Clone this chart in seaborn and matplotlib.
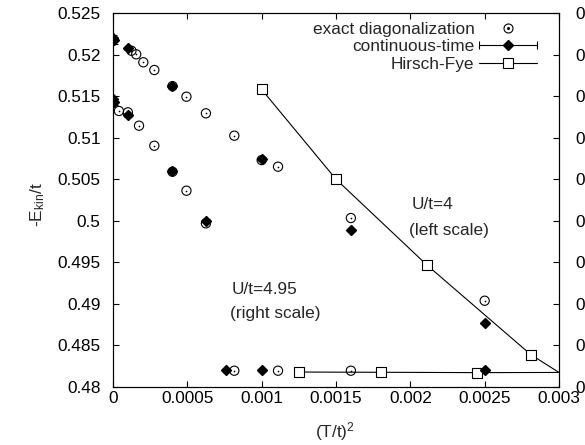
import numpy as np
import matplotlib
matplotlib.use('Agg')
import matplotlib.pyplot as plt
import seaborn as sns
from matplotlib.lines import Line2D
from matplotlib.legend_handler import HandlerLine2D, HandlerTuple

# exact diagonalization, U/t=4 (upper branch)
ed_u4_x = [0.000124, 0.000156, 0.000204, 0.000278, 0.0004, 0.000494, 0.000625, 0.000816, 0.001, 0.00111, 0.0016, 0.0025]
ed_u4_y = [0.52046, 0.52003, 0.51907, 0.51814, 0.5162, 0.51493, 0.51293, 0.51024, 0.5073, 0.50651, 0.50033, 0.49038]
# exact diagonalization, U/t=4.95 (lower branch)
ed_u495_x = [0.00004, 0.0001, 0.000175, 0.000278, 0.0004, 0.000494, 0.000625]
ed_u495_y = [0.51321, 0.51305, 0.51144, 0.50903, 0.5059, 0.50362, 0.49969]
# exact diagonalization, points along the bottom
ed_low_x = [0.000816, 0.00111, 0.0016]
ed_low_y = [0.48196, 0.48196, 0.48196]

# continuous-time QMC
ct_u4_x = [0.0, 0.00001, 0.0001, 0.0004, 0.001, 0.0016, 0.0025]
ct_u4_y = [0.5220, 0.5217, 0.52075, 0.51625, 0.50743, 0.4989, 0.48767]
ct_u4_err = [0.0004, 0.0004, 0.0002, 0.0002, 0.0002, 0.0001, 0.0001]
ct_u495_x = [0.0, 0.00001, 0.0001, 0.0004, 0.000625]
ct_u495_y = [0.5146, 0.5143, 0.51273, 0.50599, 0.5000]
ct_u495_err = [0.0004, 0.0004, 0.0002, 0.0002, 0.0002]
ct_low_x = [0.00076, 0.001, 0.0025]
ct_low_y = [0.48204, 0.48204, 0.48204]

# Hirsch-Fye
hf_u4_x = [0.001, 0.0015, 0.00211, 0.00281]
hf_u4_y = [0.5158, 0.5050, 0.4947, 0.4839]
hf_low_x = [0.00125, 0.0018, 0.00245]
hf_low_y = [0.4818, 0.48177, 0.48173]
hf_end_x = 0.003
hf_end_y = 0.48175

x_ticks = [0, 0.0005, 0.001, 0.0015, 0.002, 0.0025, 0.003]
x_tick_labels = ['0', '0.0005', '0.001', '0.0015', '0.002', '0.0025', '0.003']
y_ticks = [0.48, 0.485, 0.49, 0.495, 0.5, 0.505, 0.51, 0.515, 0.52, 0.525]
y_tick_labels = ['0.48', '0.485', '0.49', '0.495', '0.5', '0.505', '0.51', '0.515', '0.52', '0.525']
r_ticks = [0.41, 0.415, 0.42, 0.425, 0.43, 0.435, 0.44, 0.445, 0.45, 0.455]
r_tick_labels = ['0.41', '0.415', '0.42', '0.425', '0.43', '0.435', '0.44', '0.445', '0.45', '0.455']

sns.set_style('ticks')
plt.rcParams['font.family'] = ['Liberation Sans', 'DejaVu Sans']
plt.rcParams['font.size'] = 12.4
plt.rcParams['mathtext.fontset'] = 'custom'
plt.rcParams['mathtext.rm'] = 'Liberation Sans'
plt.rcParams['mathtext.it'] = 'Liberation Sans:italic'

fig = plt.figure(figsize=(5.85, 4.45), dpi=100)
ax = fig.add_axes([113/585, 1-387/445, 446/585, 374/445])

lw = 0.8
# Hirsch-Fye lines
sns.lineplot(x=hf_u4_x + [hf_end_x], y=hf_u4_y + [hf_end_y], sort=False, estimator=None,
             color='k', lw=lw, ax=ax, zorder=2)
sns.lineplot(x=hf_low_x + [hf_end_x], y=hf_low_y + [hf_end_y], sort=False, estimator=None,
             color='k', lw=lw, ax=ax, zorder=2)
sns.scatterplot(x=hf_u4_x + hf_low_x, y=hf_u4_y + hf_low_y, marker='s', s=52,
                facecolor='white', edgecolor='k', linewidth=lw, ax=ax, zorder=3)

# exact diagonalization: circle with centre dot
ed_x = ed_u4_x + ed_u495_x + ed_low_x
ed_y = ed_u4_y + ed_u495_y + ed_low_y
sns.scatterplot(x=ed_x, y=ed_y, marker='o', s=44, facecolor='none', edgecolor='k',
                linewidth=lw, ax=ax, zorder=4)
sns.scatterplot(x=ed_x, y=ed_y, marker='o', s=1.5, color='k', linewidth=0, ax=ax, zorder=4)

# continuous-time with error bars
for xs, ys, es in [(ct_u4_x, ct_u4_y, ct_u4_err), (ct_u495_x, ct_u495_y, ct_u495_err),
                   (ct_low_x, ct_low_y, [0.0001] * 3)]:
    ax.errorbar(xs, ys, yerr=es, fmt='D', ms=4.6, color='k', ecolor='k', elinewidth=lw,
                capsize=3.2, capthick=lw, zorder=5)

ax.set_xlim(0, 0.003)
ax.set_ylim(0.48, 0.525)
ax.set_xticks(x_ticks)
ax.set_xticklabels(x_tick_labels)
ax.set_yticks(y_ticks)
ax.set_yticklabels(y_tick_labels)
ax.tick_params(direction='in', length=4.3, width=lw, top=True, right=False, colors='k')
ax.tick_params(axis='y', pad=9)
ax.tick_params(axis='x', pad=3)
for sp in ax.spines.values():
    sp.set_linewidth(lw)
    sp.set_color('k')

ax2 = ax.twinx()
ax2.set_ylim(0.41, 0.455)
ax2.set_yticks(r_ticks)
ax2.set_yticklabels(r_tick_labels)
ax2.tick_params(direction='in', length=4.3, width=lw, pad=11.5, colors='k')
for sp in ax2.spines.values():
    sp.set_linewidth(lw)
    sp.set_color('k')

ax.set_xlabel(r'(T/t)$^2$')
ax.xaxis.set_label_coords(0.498, -0.088)
ax.set_ylabel(r'-E$_{\rm kin}$/t')
ax.yaxis.set_label_coords(-0.148, 0.487)

ax.text(0.00201, 0.5019, 'U/t=4', ha='left', va='center')
ax.text(0.00199, 0.49889, '(left scale)', ha='left', va='center')
ax.text(0.00080, 0.49179, 'U/t=4.95', ha='left', va='center')
ax.text(0.00079, 0.48889, '(right scale)', ha='left', va='center')

# legend
ed_h = (Line2D([], [], ls='none', marker='o', mfc='none', mec='k', ms=6.5, mew=lw),
        Line2D([], [], ls='none', marker='o', color='k', ms=1.2))
ct_line = Line2D([], [], color='k', lw=lw, marker='|', ms=6, mew=lw)
ct_h = (ct_line, Line2D([], [], ls='none', marker='D', color='k', ms=4.6))
hf_h = Line2D([], [], color='k', lw=lw, marker='s', ms=7, mfc='white', mec='k', mew=lw)
ax2.legend([ed_h, ct_h, hf_h], ['exact diagonalization', 'continuous-time', 'Hirsch-Fye'],
           loc='upper right', bbox_to_anchor=(546/585, 1-13/445), bbox_transform=fig.transFigure,
           frameon=False, markerfirst=False, handlelength=3.4, handletextpad=0.25,
           labelspacing=0.16, borderpad=0,
           handler_map={ct_line: HandlerLine2D(numpoints=2, marker_pad=0),
                        tuple: HandlerTuple(ndivide=1)})

fig.savefig('out.png', dpi=100)
